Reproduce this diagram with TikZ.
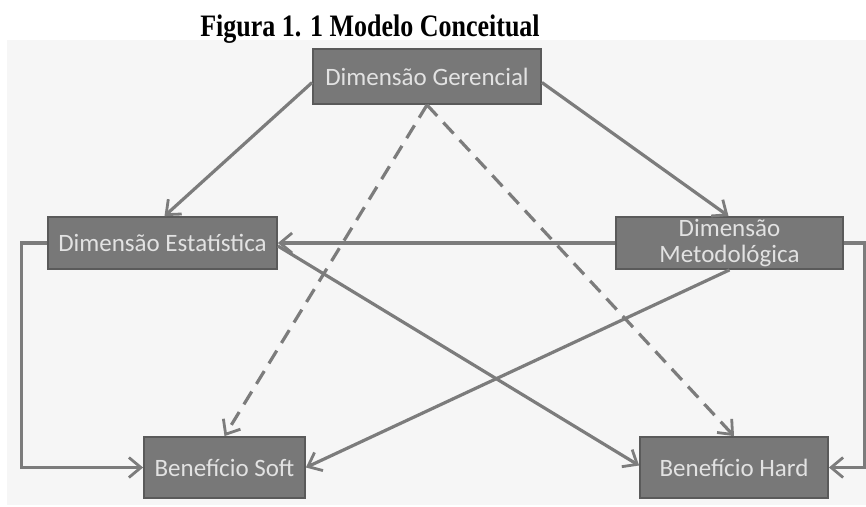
\documentclass[tikz,border=0pt]{standalone}
\usepackage{fontspec}
\setmainfont{Liberation Serif}
\newfontfamily\boxfont{Carlito}
\usetikzlibrary{arrows.meta,calc}
\definecolor{panel}{HTML}{F6F6F6}
\definecolor{boxfill}{HTML}{787878}
\definecolor{boxline}{HTML}{5A5A5A}
\definecolor{boxtext}{HTML}{E2E2E2}
\definecolor{linkc}{HTML}{7C7C7C}
\begin{document}
\begin{tikzpicture}[x=1pt,y=-1pt,
  dim/.style={draw=boxline, line width=1.8pt, fill=boxfill, text=boxtext,
    font=\boxfont\fontsize{25}{26}\selectfont, inner sep=0pt, align=center},
  link/.style={draw=linkc, line width=3.2pt,
    -{Straight Barb[length=12pt,width=20pt,line width=2.8pt]}},
  dlink/.style={link, dash pattern=on 15pt off 9pt}]
\useasboundingbox (0,0) rectangle (866,506);
\fill[white] (0,0) rectangle (866,506);
\fill[panel] (7,40) rectangle (866,505);
\node[font=\bfseries\fontsize{26}{28}\selectfont, anchor=base, inner sep=0pt] (title) at (370,36) {\scalebox{1}[1.2]{Figura 1. 1 Modelo Conceitual}};
\node[dim, minimum width=228pt, minimum height=55pt] (ger) at (427,76.5) {Dimensão Gerencial};
\node[dim, minimum width=229pt, minimum height=52pt] (est) at (162.5,243) {Dimensão Estatística};
\node[dim, minimum width=227pt, minimum height=52pt] (met) at (729.5,243) {Dimensão\\Metodológica};
\node[dim, minimum width=161pt, minimum height=61pt] (soft) at (224.5,467.5) {Benefício Soft};
\node[dim, minimum width=188pt, minimum height=61pt] (hard) at (734,467.5) {Benefício Hard};
% connectors
\draw[link] ([yshift=-6pt]ger.west) -- ([xshift=2pt]est.north);
\draw[link] ([yshift=-6pt]ger.east) -- ([xshift=-1pt]met.north);
\draw[dlink] (ger.south) -- (soft.north);
\draw[dlink] (ger.south) -- (hard.north);
\draw[link] (met.west) -- (est.east);
\draw[link] ([yshift=-3pt]est.east) -- ([yshift=2pt]hard.west);
\draw[link] (met.south) -- (soft.east);
\draw[link] (est.west) -- ++(-26,0) |- (soft.west);
\draw[link] (met.east) -- ++(21,0) |- (hard.east);
\end{tikzpicture}
\end{document}
